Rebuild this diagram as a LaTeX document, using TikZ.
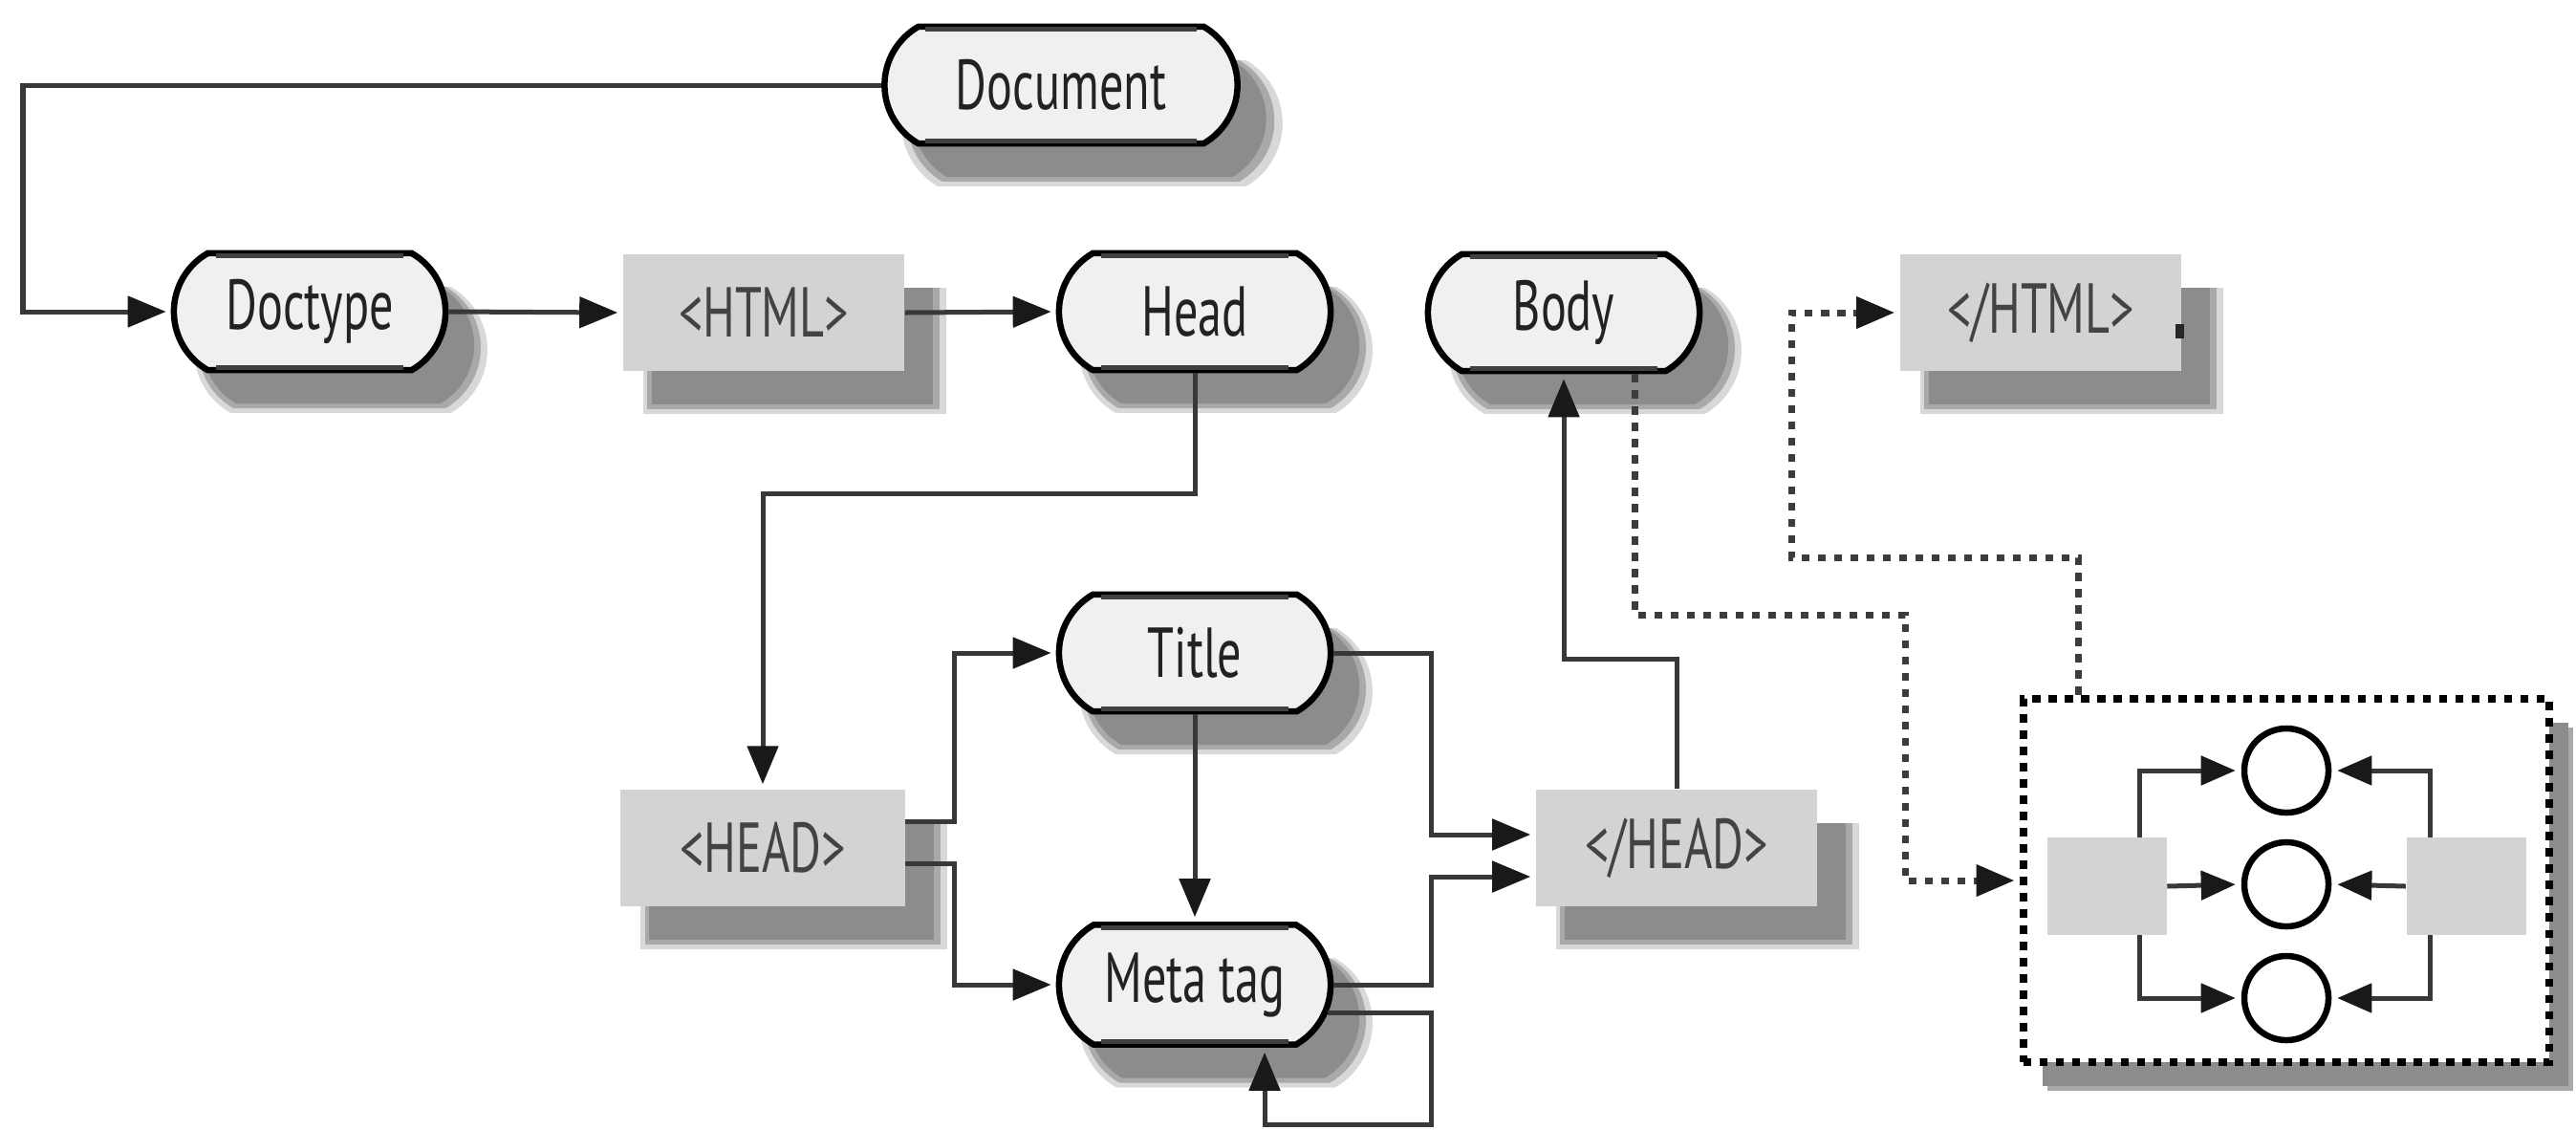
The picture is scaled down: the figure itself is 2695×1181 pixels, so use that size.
\documentclass[tikz,border=0pt]{standalone}
\usepackage{fontspec}
\setmainfont[FakeStretch=0.68]{PT Sans}
\usetikzlibrary{arrows.meta,shapes.misc,shadows,calc}
\definecolor{pillfill}{HTML}{F0F0F0}
\definecolor{boxfill}{HTML}{D3D3D5}
\definecolor{linec}{HTML}{383838}
\definecolor{dotc}{HTML}{3C3C3C}
\definecolor{shA}{HTML}{8C8C8E}
\definecolor{shB}{HTML}{A9A9AB}
\definecolor{shC}{HTML}{D8D8DA}
\definecolor{txtc}{HTML}{222222}
\newcommand\lblfont{\fontsize{21pt}{23pt}\selectfont}
\tikzset{
  shad/.style={
    drop shadow={shadow xshift=0.30cm,shadow yshift=-0.37cm,shadow scale=1.08,fill=shC,opacity=1},
    drop shadow={shadow xshift=0.30cm,shadow yshift=-0.36cm,shadow scale=1.04,fill=shB,opacity=1},
    drop shadow={shadow xshift=0.30cm,shadow yshift=-0.35cm,shadow scale=1.0,fill=shA,opacity=1}},
  pill/.style={shad, rounded rectangle, rounded rectangle arc length=120,
    draw=black, line width=0.065cm, fill=pillfill, minimum width=2.84cm,
    minimum height=1.22cm, inner sep=0pt, text=txtc, font=\lblfont},
  tagbox/.style={shad, rectangle, fill=boxfill, minimum width=2.94cm,
    minimum height=1.22cm, inner sep=0pt, text=txtc!85, font=\lblfont},
  band/.style={draw=black!75, line width=0.05cm},
  tip/.style={-{Triangle[length=0.4cm,width=0.32cm,color=black!90]}},
  conn/.style={draw=linec, line width=0.05cm, shorten >=0.05cm, tip},
  dconn/.style={draw=dotc, line width=0.07cm, dash pattern=on 0.085cm off 0.085cm,
    shorten >=0.05cm, tip},
  grpbox/.style={rectangle, draw=black, fill=white, line width=0.085cm,
    dash pattern=on 0.085cm off 0.085cm, minimum width=5.5cm, minimum height=3.8cm,
    drop shadow={shadow xshift=0.25cm,shadow yshift=-0.30cm,shadow scale=1.0,fill=shB,opacity=1},
    drop shadow={shadow xshift=0.20cm,shadow yshift=-0.25cm,shadow scale=1.0,fill=shA,opacity=1}},
  sq/.style={rectangle, fill=boxfill, minimum width=1.25cm, minimum height=1.01cm, inner sep=0pt},
  circ/.style={circle, draw=black, line width=0.065cm, minimum size=0.88cm, inner sep=0pt},
  iconn/.style={draw=linec, line width=0.05cm, shorten >=0.06cm,
    -{Triangle[length=0.36cm,width=0.3cm,color=black!90]}}
}
\begin{document}
\begin{tikzpicture}[x=0.01cm,y=-0.01cm]
\useasboundingbox (0,0) rectangle (2695,1181);

% nodes
\node[pill, minimum width=3.69cm] (doc) at (1110,89) {Document};
\node[pill] (doctype) at (324,326) {Doctype};
\node[tagbox] (html) at (799,327) {<HTML>};
\node[pill] (head) at (1250,326) {Head};
\node[pill] (body) at (1636,327) {Body};
\node[tagbox] (chtml) at (2135,327) {</HTML>};
\fill[black!85] (2276,339) rectangle (2285,354);
\node[pill] (title) at (1250,683) {Title};
\node[pill, minimum height=1.25cm] (meta) at (1250,1030) {Meta tag};
\node[tagbox, minimum width=2.97cm] (hhead) at (798,887) {<HEAD>};
\node[tagbox] (chead) at (1754,887) {</HEAD>};

% dark bands inside the top and bottom borders of the pills
\foreach \n/\w in {doc/1.42cm,doctype/0.98cm,head/0.98cm,body/0.98cm,title/0.98cm,meta/0.98cm}{
  \draw[band] ([xshift=-\w,yshift=-0.06cm]\n.north) -- ([xshift=\w,yshift=-0.06cm]\n.north);
  \draw[band] ([xshift=-\w,yshift=0.06cm]\n.south) -- ([xshift=\w,yshift=0.06cm]\n.south);
}

% group box
\node[grpbox] (grp) at (2392,921) {};
\node[sq] (L) at (2204,927) {};
\node[sq] (R) at (2580,927) {};
\node[circ] (c1) at (2392,806) {};
\node[circ] (c2) at (2392,925) {};
\node[circ] (c3) at (2392,1044) {};

% connectors
\coordinate (b1) at (24,89);
\draw[conn] (doc.west) -- (b1) |- (doctype.west);
\draw[conn] (doctype.east) -- (html.west);
\draw[conn] (html.east) -- (head.west);
\coordinate (b2) at (1250,516);
\draw[conn] (head.south) -- (b2) -| (hhead.north);
\draw[conn] ([yshift=0.28cm]hhead.east) -- ++(51,0) |- (title.west);
\draw[conn] ([yshift=-0.16cm]hhead.east) -- ++(51,0) |- (meta.west);
\draw[conn] (title.south) -- (meta.north);
\draw[conn] (title.east) -- ++(102,0) |- ([yshift=0.14cm]chead.west);
\draw[conn] (meta.east) -- ++(102,0) |- ([yshift=-0.30cm]chead.west);
\coordinate (b3) at (1497,1176);
\draw[conn] (meta.-12) -| (b3) -| ([xshift=0.73cm]meta.south);
\coordinate (b4) at (1754,689);
\draw[conn] (chead.north) -- (b4) -| (body.south);

% dotted connectors
\coordinate (d1) at (1993,643);
\draw[dconn] ([xshift=0.74cm]body.south) |- (d1) |- (grp.west);
\coordinate (d2) at (1874,583);
\draw[dconn] ([xshift=-2.17cm]grp.north) |- (d2) |- (chtml.west);

% inner connectors
\draw[iconn] ([xshift=0.34cm]L.north) |- (c1.west);
\draw[iconn] (L.east) -- (c2.west);
\draw[iconn] ([xshift=0.34cm]L.south) |- (c3.west);
\draw[iconn] ([xshift=-0.38cm]R.north) |- (c1.east);
\draw[iconn] (R.west) -- (c2.east);
\draw[iconn] ([xshift=-0.38cm]R.south) |- (c3.east);
\end{tikzpicture}
\end{document}
